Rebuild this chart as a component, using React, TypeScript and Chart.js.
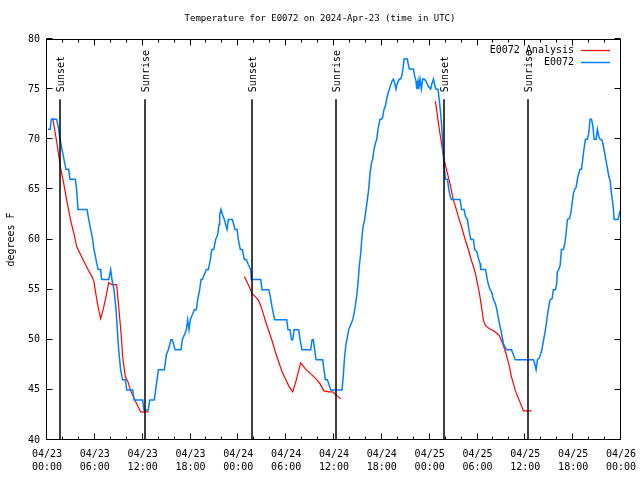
import React, { useEffect, useRef } from "react";
import { Chart, registerables } from "chart.js";

Chart.register(...registerables);

const FONT_FAMILY = '"DejaVu Sans Mono", "Liberation Mono", monospace';

const titleText = "Temperature for E0072 on 2024-Apr-23 (time in UTC)";
const yAxisTitle = "degrees F";
const analysisName = "E0072 Analysis";
const observedName = "E0072";

// x axis: hours since 2024-04-23 00:00 UTC
const xTickHours = [0, 6, 12, 18, 24, 30, 36, 42, 48, 54, 60, 66, 72];
const xTickDates = ["04/23", "04/23", "04/23", "04/23", "04/24", "04/24", "04/24", "04/24", "04/25", "04/25", "04/25", "04/25", "04/26"];
const xTickTimes = ["00:00", "06:00", "12:00", "18:00", "00:00", "06:00", "12:00", "18:00", "00:00", "06:00", "12:00", "18:00", "00:00"];
const yTickValues = [40, 45, 50, 55, 60, 65, 70, 75, 80];

const sunEventHours = [1.58, 12.26, 25.67, 36.21, 49.8, 60.31];
const sunEventLabels = ["Sunset", "Sunrise", "Sunset", "Sunrise", "Sunset", "Sunrise"];

// observed E0072 temperatures
const observedHours = [
  0.12, 0.4, 0.54, 1.21, 1.46, 1.63, 1.88, 2.13, 2.38, 2.72, 2.88, 3.55, 3.72, 3.89, 5.02, 5.23, 5.48, 5.73, 5.89, 6.15,
  6.4, 6.73, 6.85, 7.74, 7.99, 8.15, 8.41, 8.66, 8.82, 8.99, 9.24, 9.49, 9.83, 10.0, 10.75, 10.92, 12.0, 12.17, 12.71, 12.88,
  13.46, 13.63, 13.8, 13.97, 14.72, 14.89, 14.97, 15.22, 15.55, 15.72, 16.06, 16.81, 16.97, 17.23, 17.48, 17.65, 17.81, 17.98, 18.23, 18.48,
  18.73, 18.9, 19.15, 19.32, 19.49, 19.74, 19.99, 20.24, 20.49, 20.66, 20.91, 21.16, 21.41, 21.58, 21.66, 21.83, 22.0, 22.25, 22.41, 22.58,
  22.75, 23.25, 23.42, 23.58, 23.84, 24.0, 24.25, 24.5, 24.75, 25.0, 25.25, 25.55, 25.63, 26.81, 26.97, 27.8, 27.97, 28.22, 28.39, 28.56,
  30.07, 30.23, 30.49, 30.66, 30.83, 30.99, 31.57, 31.74, 31.99, 33.08, 33.25, 33.41, 33.58, 33.75, 34.58, 34.75, 34.92, 35.17, 35.34, 35.59,
  37.01, 37.18, 37.34, 37.51, 37.68, 37.84, 38.09, 38.35, 38.51, 38.68, 38.85, 39.01, 39.18, 39.35, 39.52, 39.68, 39.85, 40.02, 40.19, 40.35,
  40.52, 40.69, 40.85, 41.02, 41.19, 41.36, 41.52, 41.77, 41.94, 42.11, 42.28, 42.44, 42.61, 42.78, 42.95, 43.11, 43.28, 43.45, 43.61, 43.78,
  43.95, 44.2, 44.37, 44.53, 44.7, 44.79, 45.2, 45.29, 45.45, 45.96, 46.12, 46.29, 46.38, 46.54, 46.63, 46.79, 46.96, 47.13, 47.3, 47.55,
  47.8, 48.13, 48.3, 48.47, 48.63, 48.8, 49.05, 49.22, 49.39, 49.55, 49.68, 49.85, 49.98, 50.23, 50.4, 50.57, 50.73, 51.82, 51.99, 52.32,
  52.49, 52.74, 52.91, 53.16, 53.49, 53.66, 53.91, 54.16, 54.33, 54.41, 55.0, 55.17, 55.33, 55.58, 55.75, 56.0, 56.25, 56.42, 56.59, 56.75,
  56.92, 57.09, 57.26, 57.42, 57.67, 58.26, 58.59, 58.76, 61.01, 61.18, 61.35, 61.52, 61.77, 61.93, 62.1, 62.27, 62.44, 62.6, 62.77, 62.94,
  63.11, 63.36, 63.52, 63.77, 63.94, 64.02, 64.19, 64.36, 64.53, 64.78, 64.95, 65.11, 65.28, 65.53, 65.7, 65.87, 66.03, 66.2, 66.37, 66.53,
  66.7, 66.87, 67.04, 67.2, 67.37, 67.54, 67.79, 67.96, 68.12, 68.29, 68.46, 68.63, 68.88, 69.04, 69.21, 69.38, 69.63, 69.8, 69.96, 70.13,
  70.3, 70.47, 70.63, 70.8, 70.97, 71.05, 71.14, 71.64, 71.8, 71.97,
];
const observedTemps = [
  71, 71, 72, 72, 71, 70, 69, 68, 67, 67, 66, 66, 65, 63, 63, 62, 61, 60, 59, 58,
  57, 57, 56, 56, 57, 56, 55, 53, 51, 49, 47, 46, 46, 45, 45, 44, 44, 43, 43, 44,
  44, 45, 46, 47, 47, 48, 48.5, 49, 50, 50, 49, 49, 50, 50.5, 51, 52, 51, 52, 52.5, 53,
  53, 54, 55, 56, 56, 56.5, 57, 57, 58, 59, 59, 60, 60.5, 61.5, 62.5, 63, 62.5, 62, 61.5, 61,
  62, 62, 61.5, 61, 61, 60, 59, 59, 58, 58, 57.5, 57, 56, 56, 55, 55, 54.5, 53.3, 52.6, 52,
  52, 51, 51, 50, 50, 51, 51, 50, 49, 49, 50, 50, 49, 48, 48, 47, 46, 46, 45.6, 45,
  45, 46.6, 48.4, 49.6, 50.3, 51, 51.5, 52, 52.6, 53.4, 54.4, 55.6, 57.4, 58.6, 60.4, 61.4, 62, 63, 64, 65,
  66.6, 67.6, 68, 69, 69.6, 70, 71, 72, 72, 72.2, 73, 73.3, 74, 74.6, 75, 75.4, 75.8, 76, 75.6, 75,
  75.6, 76, 76, 76.4, 77.3, 78, 78, 77.6, 77, 77, 76.3, 75.8, 75, 75.8, 75, 76, 75, 76, 76, 75.8,
  75.3, 75, 75.6, 76, 75.4, 75, 75, 73.8, 72.5, 70.8, 68.9, 67, 66, 66, 65, 64.3, 64, 64, 63, 63,
  62.3, 62, 61, 60, 60, 59, 58.8, 58, 57.6, 57, 57, 56.3, 55.6, 55, 54.8, 54, 53.6, 53, 52.3, 51.6,
  51, 50.3, 49.6, 49.3, 49, 49, 48.3, 48, 48, 47.6, 47, 48, 48.2, 48.6, 49.1, 49.9, 50.6, 51.4, 52.4, 53.3,
  54, 54.1, 55, 55, 55.6, 56.8, 57, 57.4, 59, 59, 59.6, 60.6, 62, 62.1, 62.6, 63.6, 64.6, 65, 65.2, 66,
  66.6, 67, 67, 68, 69.1, 70, 70, 70.6, 72, 72, 71.4, 70, 70, 71, 70.3, 70, 69.9, 69.3, 68.6, 67.8,
  67.1, 66.3, 65.9, 64.6, 63.6, 63, 62, 62, 62.6, 63,
];

// E0072 Analysis (three separate runs, null = break)
const analysisHours = [
  0.71, 1.04, 1.38, 1.71, 2.05, 2.38, 2.72, 3.05, 3.38, 3.72, 4.14, 4.64, 5.14, 5.64, 5.89, 6.06, 6.4, 6.73, 7.07, 7.4,
  7.74, 8.15, 8.74, 8.99, 9.33, 9.49, 9.66, 9.83, 10.16, 10.5, 11.08, 11.75, 12.26, 12.76,
  18.0,
  24.75, 24.88, 25.38, 25.72, 26.13, 26.55, 26.8, 27.05, 27.39, 27.81, 28.23, 28.64, 29.06, 29.48, 29.9, 30.32, 30.82, 31.24, 31.82, 32.41,
  33.08, 33.75, 34.25, 34.75, 35.34, 35.84, 36.26, 36.84,
  42.0,
  48.72, 48.98, 49.23, 49.48, 49.73, 49.98, 50.23, 50.48, 50.73, 50.98, 51.23, 51.48, 51.74, 51.99, 52.24, 52.49, 52.74, 52.99, 53.24, 53.49,
  53.74, 53.99, 54.25, 54.5, 54.75, 55.0, 55.5, 56.0, 56.5, 56.75, 57.01, 57.26, 57.51, 57.76, 58.01, 58.26, 58.51, 58.76, 59.01, 59.26,
  59.52, 59.77, 60.02, 60.77,
];
const analysisTemps = [
  72.1, 70.6, 68.9, 67.1, 65.8, 64.3, 62.9, 61.6, 60.6, 59.3, 58.6, 57.8, 57, 56.3, 55.8, 54.9, 53.3, 52.1, 53.1, 54.3,
  55.7, 55.5, 55.5, 53.3, 50.3, 48.3, 47.3, 46.3, 45.8, 44.9, 43.9, 42.8, 42.8, 42.8,
  null,
  56.3, 56.1, 55.3, 54.6, 54.3, 53.9, 53.4, 52.8, 51.9, 50.9, 49.9, 48.8, 47.8, 46.8, 46.1, 45.4, 44.8, 45.9, 47.7, 47.1,
  46.6, 46.1, 45.6, 44.9, 44.8, 44.8, 44.5, 44.1,
  null,
  73.8, 72.3, 70.9, 69.6, 68.3, 67.4, 66.6, 65.8, 64.9, 63.9, 63.3, 62.6, 61.9, 61.3, 60.6, 59.9, 59.3, 58.6, 57.9, 57.3,
  56.6, 55.6, 54.6, 53.3, 51.9, 51.4, 51.1, 50.9, 50.6, 50.4, 49.9, 49.4, 48.8, 48.1, 47.3, 46.3, 45.6, 44.9, 44.4, 43.9,
  43.4, 42.9, 42.9, 42.9,
];

const ANALYSIS_COLOR = "#ff0000";
const OBSERVED_COLOR = "#0080ff";

const overlayPlugin = {
  id: "gnuplotOverlay",
  afterDatasetsDraw(chart: any) {
    const { ctx, chartArea } = chart;
    const xs = chart.scales.x;
    const ys = chart.scales.y;
    const L = Math.round(chartArea.left) - 0.5;
    const R = Math.round(chartArea.right) - 0.5;
    const T = Math.round(chartArea.top) + 0.5;
    const B = Math.round(chartArea.bottom) - 0.5;
    ctx.save();
    ctx.fillStyle = "#000";
    ctx.strokeStyle = "#000";

    // sunrise / sunset markers
    const topY = ys.getPixelForValue(74);
    sunEventHours.forEach((h, i) => {
      const px = Math.round(xs.getPixelForValue(h));
      ctx.lineWidth = 1.5;
      ctx.beginPath();
      ctx.moveTo(px, topY);
      ctx.lineTo(px, B);
      ctx.stroke();
      ctx.save();
      ctx.translate(px + 1, topY - 7);
      ctx.rotate(-Math.PI / 2);
      ctx.font = `10px ${FONT_FAMILY}`;
      ctx.textAlign = "left";
      ctx.textBaseline = "middle";
      ctx.fillText(sunEventLabels[i], 0, 0);
      ctx.restore();
    });

    // border
    ctx.lineWidth = 1;
    ctx.strokeRect(L, T, R - L, B - T);

    // ticks
    ctx.beginPath();
    yTickValues.forEach((v) => {
      const py = Math.round(ys.getPixelForValue(v)) - 0.5;
      ctx.moveTo(L, py);
      ctx.lineTo(L + 6, py);
      ctx.moveTo(R, py);
      ctx.lineTo(R - 6, py);
    });
    for (let h = 0; h <= 72; h += 2) {
      const px = Math.round(xs.getPixelForValue(h)) - 0.5;
      const len = h % 6 === 0 ? 6 : 3;
      ctx.moveTo(px, B);
      ctx.lineTo(px, B - len);
      ctx.moveTo(px, T);
      ctx.lineTo(px, T + len);
    }
    ctx.stroke();

    // title
    ctx.font = `9px ${FONT_FAMILY}`;
    ctx.textAlign = "center";
    ctx.textBaseline = "middle";
    ctx.fillText(titleText, 320, 19);

    // y axis title
    ctx.font = `10px ${FONT_FAMILY}`;
    ctx.save();
    ctx.translate(11, (T + B) / 2);
    ctx.rotate(-Math.PI / 2);
    ctx.textAlign = "center";
    ctx.textBaseline = "middle";
    ctx.fillText(yAxisTitle, 0, 0);
    ctx.restore();

    // legend
    const legendItems = [
      { name: analysisName, color: ANALYSIS_COLOR, w: 1.2 },
      { name: observedName, color: OBSERVED_COLOR, w: 1.5 },
    ];
    legendItems.forEach((item, i) => {
      const ly = 50 + i * 12;
      ctx.fillStyle = "#000";
      ctx.textAlign = "right";
      ctx.textBaseline = "middle";
      ctx.fillText(item.name, 574, ly);
      ctx.strokeStyle = item.color;
      ctx.lineWidth = item.w;
      ctx.beginPath();
      ctx.moveTo(581, ly + 0.5);
      ctx.lineTo(610, ly + 0.5);
      ctx.stroke();
    });
    ctx.restore();
  },
};

export default function App() {
  const ref = useRef<HTMLCanvasElement | null>(null);
  useEffect(() => {
    if (!ref.current) return;
    const observed = observedHours.map((h, i) => ({ x: h, y: observedTemps[i] }));
    const analysis = analysisHours.map((h, i) => ({ x: h, y: analysisTemps[i] }));
    const chart = new Chart(ref.current, {
      type: "line",
      data: {
        datasets: [
          {
            label: observedName,
            data: observed,
            borderColor: OBSERVED_COLOR,
            borderWidth: 1.5,
            pointRadius: 0,
            tension: 0,
            fill: false,
          },
          {
            label: analysisName,
            data: analysis as any,
            borderColor: ANALYSIS_COLOR,
            borderWidth: 1.2,
            pointRadius: 0,
            tension: 0,
            fill: false,
            spanGaps: false,
          },
        ],
      },
      options: {
        responsive: false,
        animation: false,
        devicePixelRatio: 1,
        events: [],
        layout: { padding: { top: 39, right: 19, left: 0, bottom: 0 } },
        plugins: {
          legend: { display: false },
          title: { display: false },
          tooltip: { enabled: false },
        },
        scales: {
          x: {
            type: "linear",
            min: 0,
            max: 72,
            afterBuildTicks: (s: any) => {
              s.ticks = xTickHours.map((v) => ({ value: v }));
            },
            afterFit: (s: any) => {
              s.height = 40;
              s.paddingLeft = 0;
              s.paddingRight = 0;
            },
            grid: { display: false, drawTicks: false },
            border: { display: false },
            ticks: {
              autoSkip: false,
              maxRotation: 0,
              minRotation: 0,
              padding: 8,
              color: "#000",
              font: { family: FONT_FAMILY, size: 10, lineHeight: 1.27 },
              callback: (v: any) => {
                const i = xTickHours.indexOf(Number(v));
                return i >= 0 ? [xTickDates[i], xTickTimes[i]] : "";
              },
            },
          },
          y: {
            type: "linear",
            min: 40,
            max: 80,
            afterBuildTicks: (s: any) => {
              s.ticks = yTickValues.map((v) => ({ value: v }));
            },
            afterFit: (s: any) => {
              s.width = 47;
              s.paddingTop = 0;
              s.paddingBottom = 0;
            },
            grid: { display: false, drawTicks: false },
            border: { display: false },
            ticks: {
              padding: 7,
              color: "#000",
              font: { family: FONT_FAMILY, size: 10 },
              callback: (v: any) => String(v),
            },
          },
        },
      },
      plugins: [overlayPlugin],
    });
    return () => chart.destroy();
  }, []);
  return (
    <div style={{ position: "fixed", left: 0, top: 0, width: 640, height: 480, background: "#fff" }}>
      <canvas ref={ref} width={640} height={480} style={{ width: 640, height: 480 }} />
    </div>
  );
}
